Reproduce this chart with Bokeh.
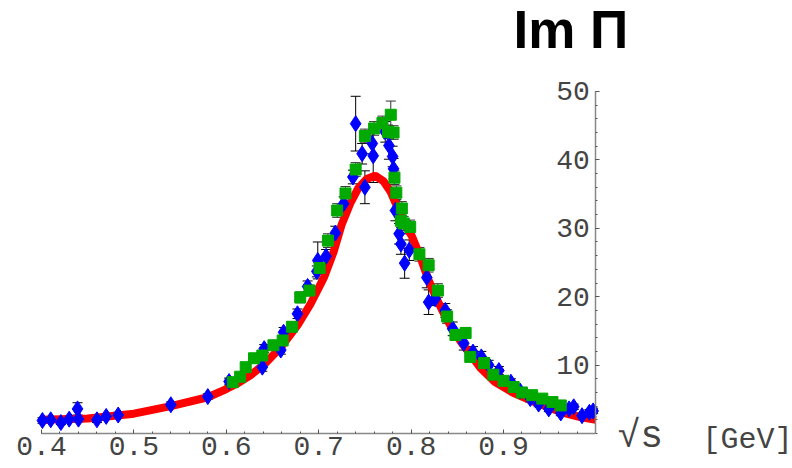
from bokeh.plotting import figure
from bokeh.models import (Range1d, FixedTicker, LinearAxis, Whisker, TeeHead,
                          ColumnDataSource)
from bokeh.core.properties import value
from bokeh.embed import file_html
from bokeh.resources import INLINE

# ---- data ----
red_x = [0.400, 0.450, 0.500, 0.540, 0.580, 0.600, 0.613, 0.626, 0.641, 0.659, 0.677, 0.691,
         0.706, 0.716, 0.725, 0.734, 0.743, 0.752, 0.761, 0.770, 0.778, 0.787, 0.795,
         0.801, 0.810, 0.819, 0.828, 0.837, 0.846, 0.855, 0.864, 0.875, 0.890, 0.911,
         0.930, 0.947, 0.965, 0.983, 1.000]
red_y = [2.0, 2.2, 2.9, 4.0, 5.3, 6.5, 7.4, 8.5, 10.1, 12.6, 15.8, 18.9,
         22.9, 26.5, 30.6, 33.6, 35.9, 37.2, 37.7, 36.9, 35.3, 32.5, 30.2,
         28.8, 25.8, 22.4, 19.6, 17.1, 15.0, 13.2, 11.6, 9.6, 7.6, 5.9,
         4.8, 3.9, 3.0, 2.4, 2.0]

blue_x = [0.401, 0.410, 0.421, 0.430, 0.439, 0.440, 0.460, 0.470, 0.483, 0.540, 0.580,
          0.603, 0.639, 0.641, 0.659, 0.662, 0.677, 0.688, 0.698, 0.699, 0.708, 0.718,
          0.727, 0.737, 0.740, 0.747, 0.750, 0.758, 0.759, 0.772, 0.776, 0.780, 0.781,
          0.783, 0.787, 0.789, 0.793, 0.798, 0.817, 0.819, 0.826, 0.837, 0.845, 0.857,
          0.867, 0.876, 0.884, 0.895, 0.908, 0.918, 0.929, 0.938, 0.949, 0.962, 0.971,
          0.976, 0.985, 0.993, 0.997]
blue_y = [1.9, 2.0, 1.6, 2.1, 3.6, 2.1, 2.0, 2.5, 2.7, 4.2, 5.4,
          7.6, 9.7, 12.4, 12.2, 14.8, 17.5, 21.5, 23.7, 25.3, 25.9, 29.3,
          33.6, 37.5, 45.3, 40.9, 36.0, 42.4, 40.6, 44.1, 42.1, 40.5, 38.7,
          32.6, 29.2, 27.7, 24.9, 26.8, 22.8, 19.2, 19.7, 18.0, 15.3, 13.2,
          11.9, 11.2, 10.0, 9.2, 7.5, 6.2, 5.1, 4.3, 3.6, 3.0, 3.6,
          3.9, 2.6, 3.1, 3.3]
blue_err = [0.4, 0.3, 0.3, 0.4, 0.9, 0.4, 0.4, 0.4, 0.4, 0.4, 0.4,
            0.5, 0.6, 0.6, 0.6, 0.7, 0.7, 0.8, 0.8, 2.7, 1.0, 1.0,
            1.0, 1.0, 4.0, 1.5, 2.4, 1.5, 3.9, 1.5, 2.0, 1.5, 1.5,
            1.5, 1.5, 1.5, 2.2, 1.5, 1.5, 1.8, 1.0, 1.0, 1.0, 1.0,
            0.8, 0.8, 0.7, 0.6, 0.5, 0.5, 0.5, 0.4, 0.4, 0.4, 0.4,
            0.4, 0.4, 0.4, 0.4]

green_x = [0.607, 0.615, 0.621, 0.630, 0.639, 0.651, 0.661, 0.671, 0.680, 0.690, 0.701,
           0.710, 0.720, 0.729, 0.740, 0.750, 0.760, 0.769, 0.775, 0.778, 0.781, 0.782,
           0.784, 0.789, 0.790, 0.792, 0.799, 0.809, 0.819, 0.829, 0.839, 0.848, 0.859,
           0.864, 0.879, 0.889, 0.900, 0.911, 0.920, 0.931, 0.942, 0.953, 0.962]
green_y = [7.5, 8.3, 9.7, 11.0, 11.4, 12.9, 13.6, 15.6, 19.9, 20.9, 24.2,
           28.2, 32.6, 35.1, 38.6, 43.5, 44.6, 45.4, 44.1, 46.6, 44.0, 37.4,
           35.2, 31.1, 32.9, 30.7, 30.2, 26.2, 24.6, 20.9, 17.1, 14.4, 14.7,
           11.2, 10.3, 8.6, 7.7, 6.8, 6.0, 5.6, 5.1, 4.6, 4.1]
green_err = [0.5, 0.5, 0.5, 0.5, 0.5, 0.6, 0.6, 0.7, 0.8, 0.8, 1.0,
             1.0, 1.0, 1.0, 1.0, 1.0, 1.0, 1.0, 1.0, 2.0, 1.0, 1.0,
             1.0, 1.0, 1.0, 1.0, 1.0, 1.0, 1.0, 1.0, 1.0, 0.8, 0.8,
             0.7, 0.6, 0.5, 0.5, 0.5, 0.4, 0.4, 0.4, 0.4, 0.4]

x_major = [0.4, 0.5, 0.6, 0.7, 0.8, 0.9]
x_minor = [round(0.4 + 0.02 * i, 2) for i in range(30)]
y_major = [10, 20, 30, 40, 50]
y_minor = [2 * i for i in range(26)]

title_text = "Im Π"
xlabel_root = "√s"
xlabel_unit = "[GeV]"

# ---- figure: the frame covers the whole canvas, axes are placed at x=1.0 and y=0 ----
p = figure(width=792, height=468, x_range=Range1d(0.35563, 1.21277),
           y_range=Range1d(-5.117, 63.304),
           x_axis_location=None, y_axis_location=None,
           output_backend="svg", toolbar_location=None,
           min_border_left=0, min_border_right=0, min_border_top=0, min_border_bottom=0)
p.outline_line_color = None
p.xgrid.visible = False
p.ygrid.visible = False
p.background_fill_color = "white"
p.border_fill_color = "white"

mono = "Liberation Mono"

xa = LinearAxis(fixed_location=0, bounds=(0.4, 1.0),
                ticker=FixedTicker(ticks=x_major, minor_ticks=x_minor))
xa.axis_line_color = "#888888"
xa.axis_line_width = 1.5
xa.major_tick_in = 4
xa.major_tick_out = 0
xa.minor_tick_in = 2
xa.minor_tick_out = 0
xa.major_tick_line_color = "#555555"
xa.minor_tick_line_color = "#555555"
xa.major_label_text_font = mono
xa.major_label_text_font_size = "28px"
xa.major_label_text_color = "#444444"
xa.major_label_standoff = 4
p.add_layout(xa, "below")

ya = LinearAxis(fixed_location=1.0, bounds=(0, 50),
                ticker=FixedTicker(ticks=y_major, minor_ticks=y_minor))
ya.axis_line_color = "#888888"
ya.axis_line_width = 1.5
ya.major_tick_in = 4
ya.major_tick_out = 0
ya.minor_tick_in = 2
ya.minor_tick_out = 0
ya.major_tick_line_color = "#555555"
ya.minor_tick_line_color = "#555555"
ya.major_label_text_font = mono
ya.major_label_text_font_size = "28px"
ya.major_label_text_color = "#444444"
ya.major_label_standoff = 6
p.add_layout(ya, "left")

# model curve
p.line(red_x, red_y, line_color="#FF0000", line_width=8)

# blue data
bsrc = ColumnDataSource(dict(x=blue_x, y=blue_y,
                             lo=[v - e for v, e in zip(blue_y, blue_err)],
                             hi=[v + e for v, e in zip(blue_y, blue_err)]))
p.add_layout(Whisker(source=bsrc, base="x", lower="lo", upper="hi", line_color="black",
                     line_width=1,
                     lower_head=TeeHead(size=10, line_color="black", line_width=1),
                     upper_head=TeeHead(size=10, line_color="black", line_width=1)))
p.scatter("x", "y", source=bsrc, marker="diamond", size=16, fill_color="#0000FF",
          line_color="#0000FF")

# green data
gsrc = ColumnDataSource(dict(x=green_x, y=green_y,
                             lo=[v - e for v, e in zip(green_y, green_err)],
                             hi=[v + e for v, e in zip(green_y, green_err)]))
p.add_layout(Whisker(source=gsrc, base="x", lower="lo", upper="hi", line_color="#333333",
                     line_width=1,
                     lower_head=TeeHead(size=10, line_color="#333333", line_width=1),
                     upper_head=TeeHead(size=10, line_color="#333333", line_width=1)))
p.scatter("x", "y", source=gsrc, marker="square", size=11, fill_color="#00AA00",
          line_color="#00AA00")

# title and axis label
p.text(x=[0.9108], y=[59.0], text=[title_text], text_font=value("Liberation Sans"),
       text_font_style="bold", text_font_size="53px", text_color="black",
       text_baseline="alphabetic", text_align="left")
p.text(x=[1.0234], y=[-0.4], text=[xlabel_root], text_font=value(mono),
       text_font_size="38px", text_color="#444444",
       text_baseline="alphabetic", text_align="left")
p.text(x=[1.1154], y=[-0.9], text=[xlabel_unit], text_font=value(mono),
       text_font_size="30px", text_color="#444444",
       text_baseline="alphabetic", text_align="left")

open("out.html", "w").write(file_html(p, INLINE))
